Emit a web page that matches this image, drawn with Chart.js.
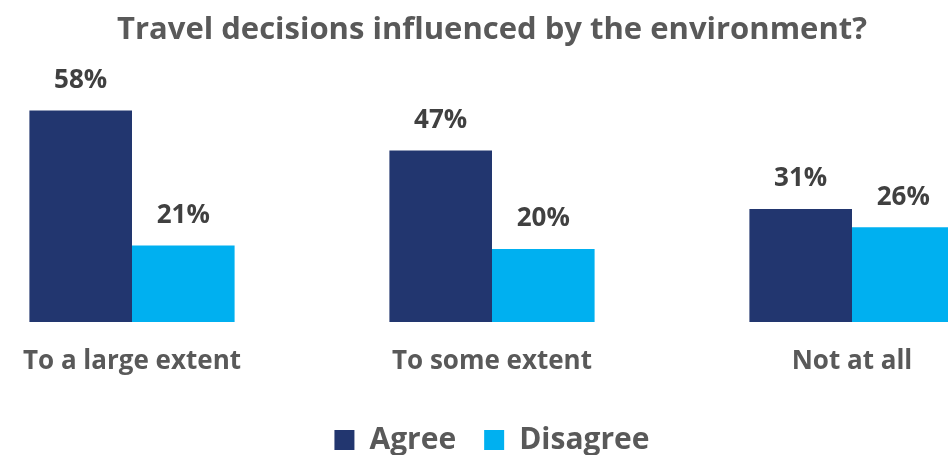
<!DOCTYPE html>
<html>
<head>
<meta charset="utf-8">
<script src="https://cdn.jsdelivr.net/npm/chart.js@4.4.0/dist/chart.umd.min.js"></script>
<style>
  html, body { margin: 0; padding: 0; background: #fff; }
  #wrap { position: relative; width: 948px; height: 455px; overflow: hidden; }
  #chart { position: absolute; left: -48px; top: 0; }
</style>
</head>
<body>
<div id="wrap"><canvas id="chart" width="1080" height="455"></canvas></div>
<script>
const categories = ['To a large extent', 'To some extent', 'Not at all'];
const agree = [58, 47, 31];
const disagree = [21, 20, 26];
const seriesNames = ['Agree', 'Disagree'];
const titleText = 'Travel decisions influenced by the environment?';

const FONT = '"Open Sans", sans-serif';

// Percentage labels above each bar
const valueLabels = {
  id: 'valueLabels',
  afterDatasetsDraw(chart) {
    const ctx = chart.ctx;
    ctx.save();
    ctx.font = 'bold 26px ' + FONT;
    ctx.fillStyle = '#404040';
    ctx.textAlign = 'center';
    ctx.textBaseline = 'middle';
    chart.data.datasets.forEach((ds, di) => {
      chart.getDatasetMeta(di).data.forEach((bar, i) => {
        ctx.fillText(ds.data[i] + '%', bar.x, bar.y - 30);
      });
    });
    ctx.restore();
  }
};

new Chart(document.getElementById('chart'), {
  type: 'bar',
  data: {
    labels: categories,
    datasets: [
      { label: seriesNames[0], data: agree, backgroundColor: '#22366F', borderWidth: 0 },
      { label: seriesNames[1], data: disagree, backgroundColor: '#00B0F0', borderWidth: 0 }
    ]
  },
  options: {
    responsive: false,
    animation: false,
    layout: { padding: { left: 0, right: 0, top: 0, bottom: -10 } },
    datasets: { bar: { categoryPercentage: 0.57, barPercentage: 1.0 } },
    scales: {
      x: {
        grid: { display: false, drawTicks: false },
        border: { display: false },
        ticks: { color: '#595959', font: { family: FONT, size: 26, weight: 'bold' }, padding: 24 },
        afterFit(scale) { scale.height = 75; }
      },
      y: {
        display: false,
        min: 0,
        max: 60
      }
    },
    plugins: {
      title: {
        display: true,
        text: titleText,
        color: '#595959',
        font: { family: FONT, size: 31, weight: 'bold' },
        padding: { top: 12, bottom: 54 }
      },
      legend: {
        position: 'bottom',
        labels: {
          color: '#595959',
          font: { family: FONT, size: 30, weight: 'bold' },
          boxWidth: 20,
          boxHeight: 20,
          padding: 28
        }
      },
      tooltip: { enabled: false }
    }
  },
  plugins: [valueLabels]
});
</script>
</body>
</html>
